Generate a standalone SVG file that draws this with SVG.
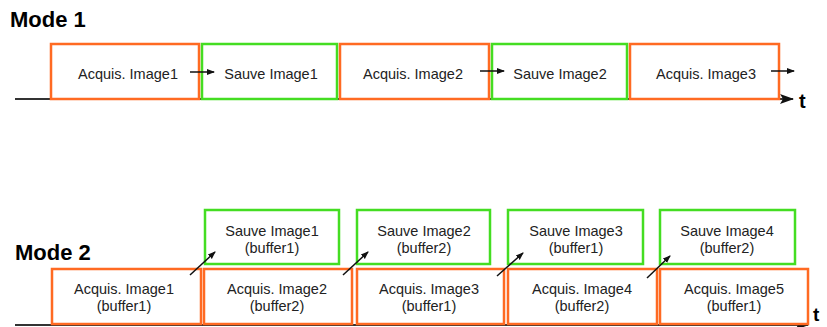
<svg xmlns="http://www.w3.org/2000/svg" width="827" height="327" viewBox="0 0 827 327">
<style>
.acq{fill:#fff;stroke:#FF6A22;stroke-width:2.5}
.sav{fill:#fff;stroke:#44DD22;stroke-width:2.5}
.lbl{font-family:"Liberation Sans",Arial,sans-serif;font-size:14.5px;fill:#222;text-anchor:middle}
.ttl{font-family:"Liberation Sans",Arial,sans-serif;font-size:22px;font-weight:bold;fill:#000}
.tt{font-family:"Liberation Sans",Arial,sans-serif;font-size:20px;font-weight:bold;fill:#000}
.axis{stroke:#333;stroke-width:2;fill:none}
.arr{stroke:#111;stroke-width:1.5;fill:none}
</style>
<defs>
<marker id="ah" markerWidth="8" markerHeight="8" refX="7" refY="4" orient="auto" markerUnits="userSpaceOnUse">
<path d="M0,1 L8,4 L0,7 Z" fill="#111"/>
</marker>
<marker id="axh" markerWidth="14" markerHeight="12" refX="13" refY="6" orient="auto" markerUnits="userSpaceOnUse">
<path d="M0,1 L14,6 L0,11 L3,6 Z" fill="#111"/>
</marker>
</defs>
<text class="ttl" x="10" y="27">Mode 1</text>
<text class="ttl" x="15" y="260">Mode 2</text>
<g id="axes">
<line class="axis" x1="15" y1="99" x2="793" y2="99" marker-end="url(#axh)"/>
<text class="tt" x="799" y="108">t</text>
<line class="axis" x1="15" y1="325" x2="808" y2="325" marker-end="url(#axh)"/>
<text class="tt" x="813" y="321" style="font-size:19px">t</text>
</g>
<g id="m1-acq1"><rect class="acq" x="51" y="44" width="148" height="55"/><text class="lbl" x="128" y="79">Acquis. Image1</text></g>
<g id="m1-sav1"><rect class="sav" x="202" y="44" width="135" height="55"/><text class="lbl" x="271" y="79">Sauve Image1</text></g>
<g id="m1-acq2"><rect class="acq" x="340" y="44" width="149" height="55"/><text class="lbl" x="413" y="79">Acquis. Image2</text></g>
<g id="m1-sav2"><rect class="sav" x="492" y="44" width="135" height="55"/><text class="lbl" x="560" y="79">Sauve Image2</text></g>
<g id="m1-acq3"><rect class="acq" x="630" y="44" width="149" height="55"/><text class="lbl" x="706" y="79">Acquis. Image3</text></g>
<g id="m2-sav1"><rect class="sav" x="205" y="210" width="134" height="54"/><text class="lbl" x="272" y="236">Sauve Image1</text><text class="lbl" x="272" y="253">(buffer1)</text></g>
<g id="m2-sav2"><rect class="sav" x="357" y="210" width="133" height="54"/><text class="lbl" x="424" y="236">Sauve Image2</text><text class="lbl" x="424" y="253">(buffer2)</text></g>
<g id="m2-sav3"><rect class="sav" x="508" y="210" width="135" height="54"/><text class="lbl" x="576" y="236">Sauve Image3</text><text class="lbl" x="576" y="253">(buffer1)</text></g>
<g id="m2-sav4"><rect class="sav" x="660" y="210" width="135" height="54"/><text class="lbl" x="727" y="236">Sauve Image4</text><text class="lbl" x="727" y="253">(buffer2)</text></g>
<g id="m2-acq1"><rect class="acq" x="52" y="269" width="149" height="55"/><text class="lbl" x="124" y="294">Acquis. Image1</text><text class="lbl" x="124" y="311">(buffer1)</text></g>
<g id="m2-acq2"><rect class="acq" x="204" y="269" width="148" height="55"/><text class="lbl" x="277" y="294">Acquis. Image2</text><text class="lbl" x="277" y="311">(buffer2)</text></g>
<g id="m2-acq3"><rect class="acq" x="357" y="269" width="147" height="55"/><text class="lbl" x="429" y="294">Acquis. Image3</text><text class="lbl" x="429" y="311">(buffer1)</text></g>
<g id="m2-acq4"><rect class="acq" x="508" y="269" width="149" height="55"/><text class="lbl" x="582" y="294">Acquis. Image4</text><text class="lbl" x="582" y="311">(buffer2)</text></g>
<g id="m2-acq5"><rect class="acq" x="660" y="269" width="148" height="55"/><text class="lbl" x="734" y="294">Acquis. Image5</text><text class="lbl" x="734" y="311">(buffer1)</text></g>
<g id="connectors">
<line class="arr" x1="190" y1="72" x2="214" y2="72" marker-end="url(#ah)"/>
<line class="arr" x1="480" y1="71" x2="504" y2="71" marker-end="url(#ah)"/>
<line class="arr" x1="771" y1="71" x2="794" y2="71" marker-end="url(#ah)"/>
<line class="arr" x1="190" y1="275" x2="215" y2="252" marker-end="url(#ah)"/>
<line class="arr" x1="343" y1="275" x2="368" y2="252" marker-end="url(#ah)"/>
<line class="arr" x1="497" y1="276" x2="523" y2="253" marker-end="url(#ah)"/>
<line class="arr" x1="647" y1="278" x2="670" y2="256" marker-end="url(#ah)"/>
</g>
</svg>
